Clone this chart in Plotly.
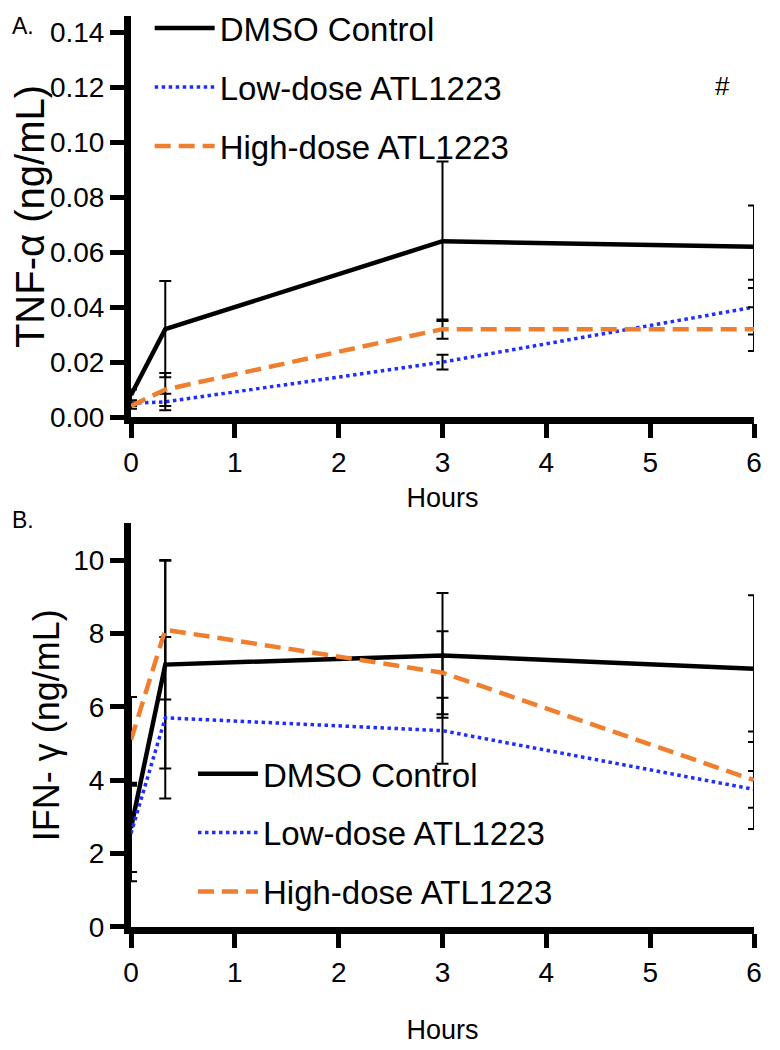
"""
Two-panel time course: TNF-alpha and IFN-gamma after ATL1223 treatment.
"""

import plotly.graph_objects as go
from plotly.subplots import make_subplots

hours = [0, 0.33, 3, 6]
series = ['DMSO Control', 'Low-dose ATL1223', 'High-dose ATL1223']

# Panel A: TNF-alpha (ng/mL), mean and SD
tnf_dmso = [0.008, 0.032, 0.064, 0.062]
tnf_dmso_sd = [0.002, 0.0175, 0.029, 0.015]
tnf_low = [0.005, 0.0055, 0.020, 0.040]
tnf_low_sd = [0.001, 0.003, 0.0027, 0.010]
tnf_high = [0.004, 0.010, 0.032, 0.032]
tnf_high_sd = [0.001, 0.006, 0.0035, 0.008]

# Panel B: IFN-gamma (ng/mL), mean and SD
ifn_dmso = [2.7, 7.15, 7.4, 7.04]
ifn_dmso_sd = [1.2, 2.83, 1.7, 2.0]
ifn_low = [2.55, 5.7, 5.35, 3.75]
ifn_low_sd = [1.3, 2.2, 0.9, 0.5]
ifn_high = [5.1, 8.1, 6.93, 4.0]
ifn_high_sd = [1.17, 1.9, 1.13, 1.33]

colors = ['#000000', '#1f2dff', '#ef7f2e']
dashes = ['solid', 'dot', '16px,8px']
widths = [4.5, 3.5, 4.5]

FONT = 'Liberation Sans, Arial, sans-serif'

fig = make_subplots(rows=2, cols=1)

panels = [
    (1, [tnf_dmso, tnf_low, tnf_high], [tnf_dmso_sd, tnf_low_sd, tnf_high_sd], 'legend'),
    (2, [ifn_dmso, ifn_low, ifn_high], [ifn_dmso_sd, ifn_low_sd, ifn_high_sd], 'legend2'),
]

for row, means, sds, leg in panels:
    for i, name in enumerate(series):
        fig.add_trace(go.Scatter(
            x=hours, y=means[i], name=name, mode='lines',
            line=dict(color=colors[i], dash=dashes[i], width=widths[i]),
            error_y=dict(type='data', array=sds[i], visible=True,
                         color='black', thickness=2, width=6),
            legend=leg, legendgroup=f'{leg}{i}', cliponaxis=False,
        ), row=row, col=1)

axis_style = dict(
    showline=True, linewidth=7, linecolor='black', ticks='outside',
    ticklen=14, tickwidth=5, tickcolor='black', showgrid=False,
    zeroline=False, tickfont=dict(size=28, color='black', family=FONT),
)

fig.update_xaxes(range=[0, 6], tickvals=[0, 1, 2, 3, 4, 5, 6], **axis_style)
fig.update_yaxes(**axis_style)

legend_style = dict(xanchor='left', yanchor='top', font=dict(size=33, family=FONT),
                    tracegroupgap=13, itemwidth=60, bgcolor='rgba(0,0,0,0)')

fig.update_layout(
    xaxis=dict(domain=[0, 1],
               title=dict(text='Hours', font=dict(size=27, family=FONT), standoff=14)),
    yaxis=dict(domain=[0.5598, 1.0], range=[0, 0.146],
               tickvals=[0, 0.02, 0.04, 0.06, 0.08, 0.10, 0.12, 0.14],
               tickformat='.2f',
               title=dict(text='TNF-α (ng/mL)', font=dict(size=40, family=FONT),
                          standoff=12)),
    xaxis2=dict(domain=[0, 1],
                title=dict(text='Hours', font=dict(size=27, family=FONT), standoff=36)),
    yaxis2=dict(domain=[0, 0.4431], range=[0, 11],
                tickvals=[0, 2, 4, 6, 8, 10],
                title=dict(text='IFN- γ (ng/mL)', font=dict(size=36, family=FONT),
                           standoff=5)),
    width=780, height=1050,
    margin=dict(l=123, r=34, t=8, b=131, autoexpand=False),
    plot_bgcolor='white', paper_bgcolor='white',
    font=dict(family=FONT, color='black'),
    legend=dict(x=0.03, y=1.0174, **legend_style),
    legend2=dict(x=0.0995, y=0.199, **legend_style),
    annotations=[
        dict(text='A.', x=-0.195, y=1.0055, xref='paper', yref='paper',
             xanchor='left', yanchor='top', showarrow=False,
             font=dict(size=23, family=FONT)),
        dict(text='B.', x=-0.195, y=0.463, xref='paper', yref='paper',
             xanchor='left', yanchor='top', showarrow=False,
             font=dict(size=23, family=FONT)),
        dict(text='#', x=5.70, y=0.1205, xref='x', yref='y', showarrow=False,
             font=dict(size=26, family=FONT)),
    ],
)

fig.write_html('out.html')
